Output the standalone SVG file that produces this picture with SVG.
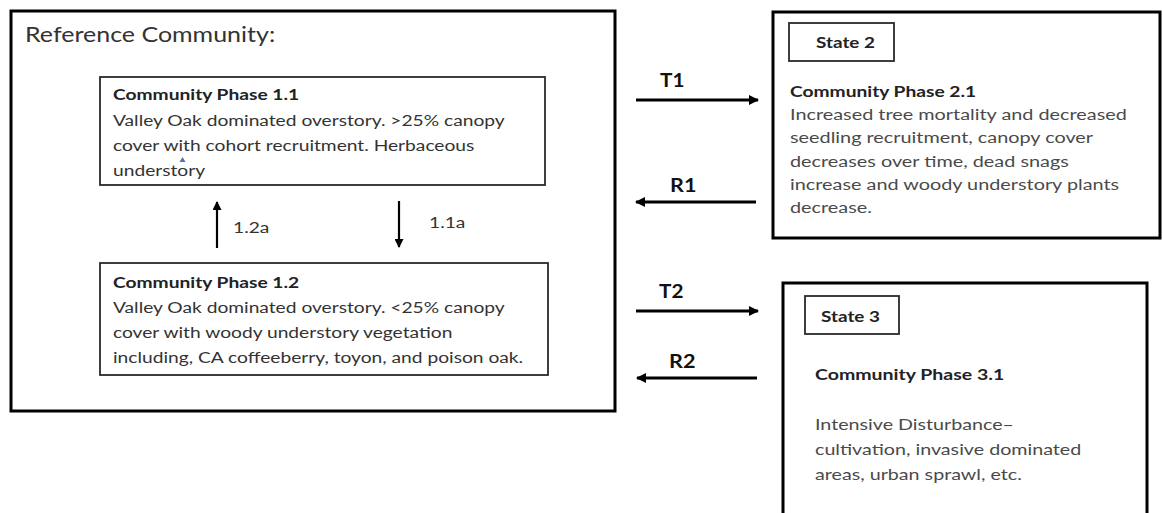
<svg xmlns="http://www.w3.org/2000/svg" width="1163" height="513" viewBox="0 0 1163 513">
<style>
text{font-family:Lato,"Liberation Sans",sans-serif;fill:#333}
.h{font-size:21px}
.t{font-size:16px;font-weight:bold;fill:#222}
.b{font-size:16px}
.n{font-size:16px}
.lbl{font-size:18px;font-weight:bold;fill:#111}
.s{font-size:16px;font-weight:bold;fill:#222}
.g{fill:#4a4a4a}
.big{fill:#fff;stroke:#000;stroke-width:3}
.ph{fill:#fff;stroke:#2a2a2a;stroke-width:1.8}
.conn{stroke:#000;fill:none}
</style>
<defs>
<marker id="ah" viewBox="0 0 10 10" refX="9" refY="5" markerWidth="11" markerHeight="10" markerUnits="userSpaceOnUse" orient="auto">
<path d="M0,0 L10,5 L0,10 Z" fill="#000"/>
</marker>
<marker id="av" viewBox="0 0 10 10" refX="9" refY="5" markerWidth="10" markerHeight="9" markerUnits="userSpaceOnUse" orient="auto">
<path d="M0,0 L10,5 L0,10 Z" fill="#000"/>
</marker>
</defs>
<rect width="1163" height="513" fill="#fff"/>
<g id="reference-community">
<rect class="big" x="11" y="11" width="604" height="400"/>
<text class="h" transform="translate(25 42) scale(1.19 1)">Reference Community:</text>
</g>
<g id="phase-1-1">
<rect class="ph" x="100" y="77" width="445" height="108"/>
<text class="t" transform="translate(113 100) scale(1.2 1)">Community Phase 1.1</text>
<text class="b" transform="translate(113 126) scale(1.2 1)">Valley Oak dominated overstory. &gt;25% canopy</text>
<text class="b" transform="translate(113 151) scale(1.2 1)">cover with cohort recruitment. Herbaceous</text>
<text class="b" transform="translate(113 176) scale(1.2 1)">understory</text>
<polygon points="179.5,162 185.5,162 182.5,157" fill="#5a6fb4"/>
</g>
<g id="phase-1-2">
<rect class="ph" x="100" y="263" width="448" height="112"/>
<text class="t" transform="translate(113 288) scale(1.2 1)">Community Phase 1.2</text>
<text class="b" transform="translate(113 313) scale(1.2 1)">Valley Oak dominated overstory. &lt;25% canopy</text>
<text class="b" transform="translate(113 338) scale(1.2 1)">cover with woody understory vegetation</text>
<text class="b" transform="translate(113 363) scale(1.2 1)">including, CA coffeeberry, toyon, and poison oak.</text>
</g>
<g id="state-2">
<rect class="big" x="773" y="12" width="387" height="226"/>
<rect class="ph" x="789" y="23" width="105" height="38" stroke="#000"/>
<text class="s" transform="translate(816 48) scale(1.18 1)">State 2</text>
<text class="t" transform="translate(790 97) scale(1.2 1)">Community Phase 2.1</text>
<text class="b g" transform="translate(790 120) scale(1.24 1)">Increased tree mortality and decreased</text>
<text class="b g" transform="translate(790 143) scale(1.24 1)">seedling recruitment, canopy cover</text>
<text class="b g" transform="translate(790 167) scale(1.24 1)">decreases over time, dead snags</text>
<text class="b g" transform="translate(790 190) scale(1.24 1)">increase and woody understory plants</text>
<text class="b g" transform="translate(790 213) scale(1.24 1)">decrease.</text>
</g>
<g id="state-3">
<rect class="big" x="783" y="283" width="364" height="260"/>
<rect class="ph" x="805" y="296" width="94" height="38" stroke="#000"/>
<text class="s" transform="translate(821 322) scale(1.18 1)">State 3</text>
<text class="t" transform="translate(815 380) scale(1.22 1)">Community Phase 3.1</text>
<text class="b g" transform="translate(815 430) scale(1.23 1)">Intensive Disturbance–</text>
<text class="b g" transform="translate(815 455) scale(1.23 1)">cultivation, invasive dominated</text>
<text class="b g" transform="translate(815 480) scale(1.23 1)">areas, urban sprawl, etc.</text>
</g>
<g id="connectors">
<line class="conn" x1="217" y1="248" x2="217" y2="202" stroke-width="2.2" marker-end="url(#av)"/>
<text class="n" transform="translate(233 233) scale(1.2 1)">1.2a</text>
<line class="conn" x1="399" y1="201" x2="399" y2="247" stroke-width="2.2" marker-end="url(#av)"/>
<text class="n" transform="translate(429 228) scale(1.2 1)">1.1a</text>
<line class="conn" x1="636" y1="100" x2="758" y2="100" stroke-width="3" marker-end="url(#ah)"/>
<text class="lbl" transform="translate(660 87) scale(1.15 1)">T1</text>
<line class="conn" x1="756" y1="202" x2="636" y2="202" stroke-width="3" marker-end="url(#ah)"/>
<text class="lbl" transform="translate(670 192) scale(1.2 1)">R1</text>
<line class="conn" x1="636" y1="311" x2="758" y2="311" stroke-width="3" marker-end="url(#ah)"/>
<text class="lbl" transform="translate(659 298) scale(1.15 1)">T2</text>
<line class="conn" x1="757" y1="378" x2="637" y2="378" stroke-width="3" marker-end="url(#ah)"/>
<text class="lbl" transform="translate(669 368) scale(1.2 1)">R2</text>
</g>
</svg>
